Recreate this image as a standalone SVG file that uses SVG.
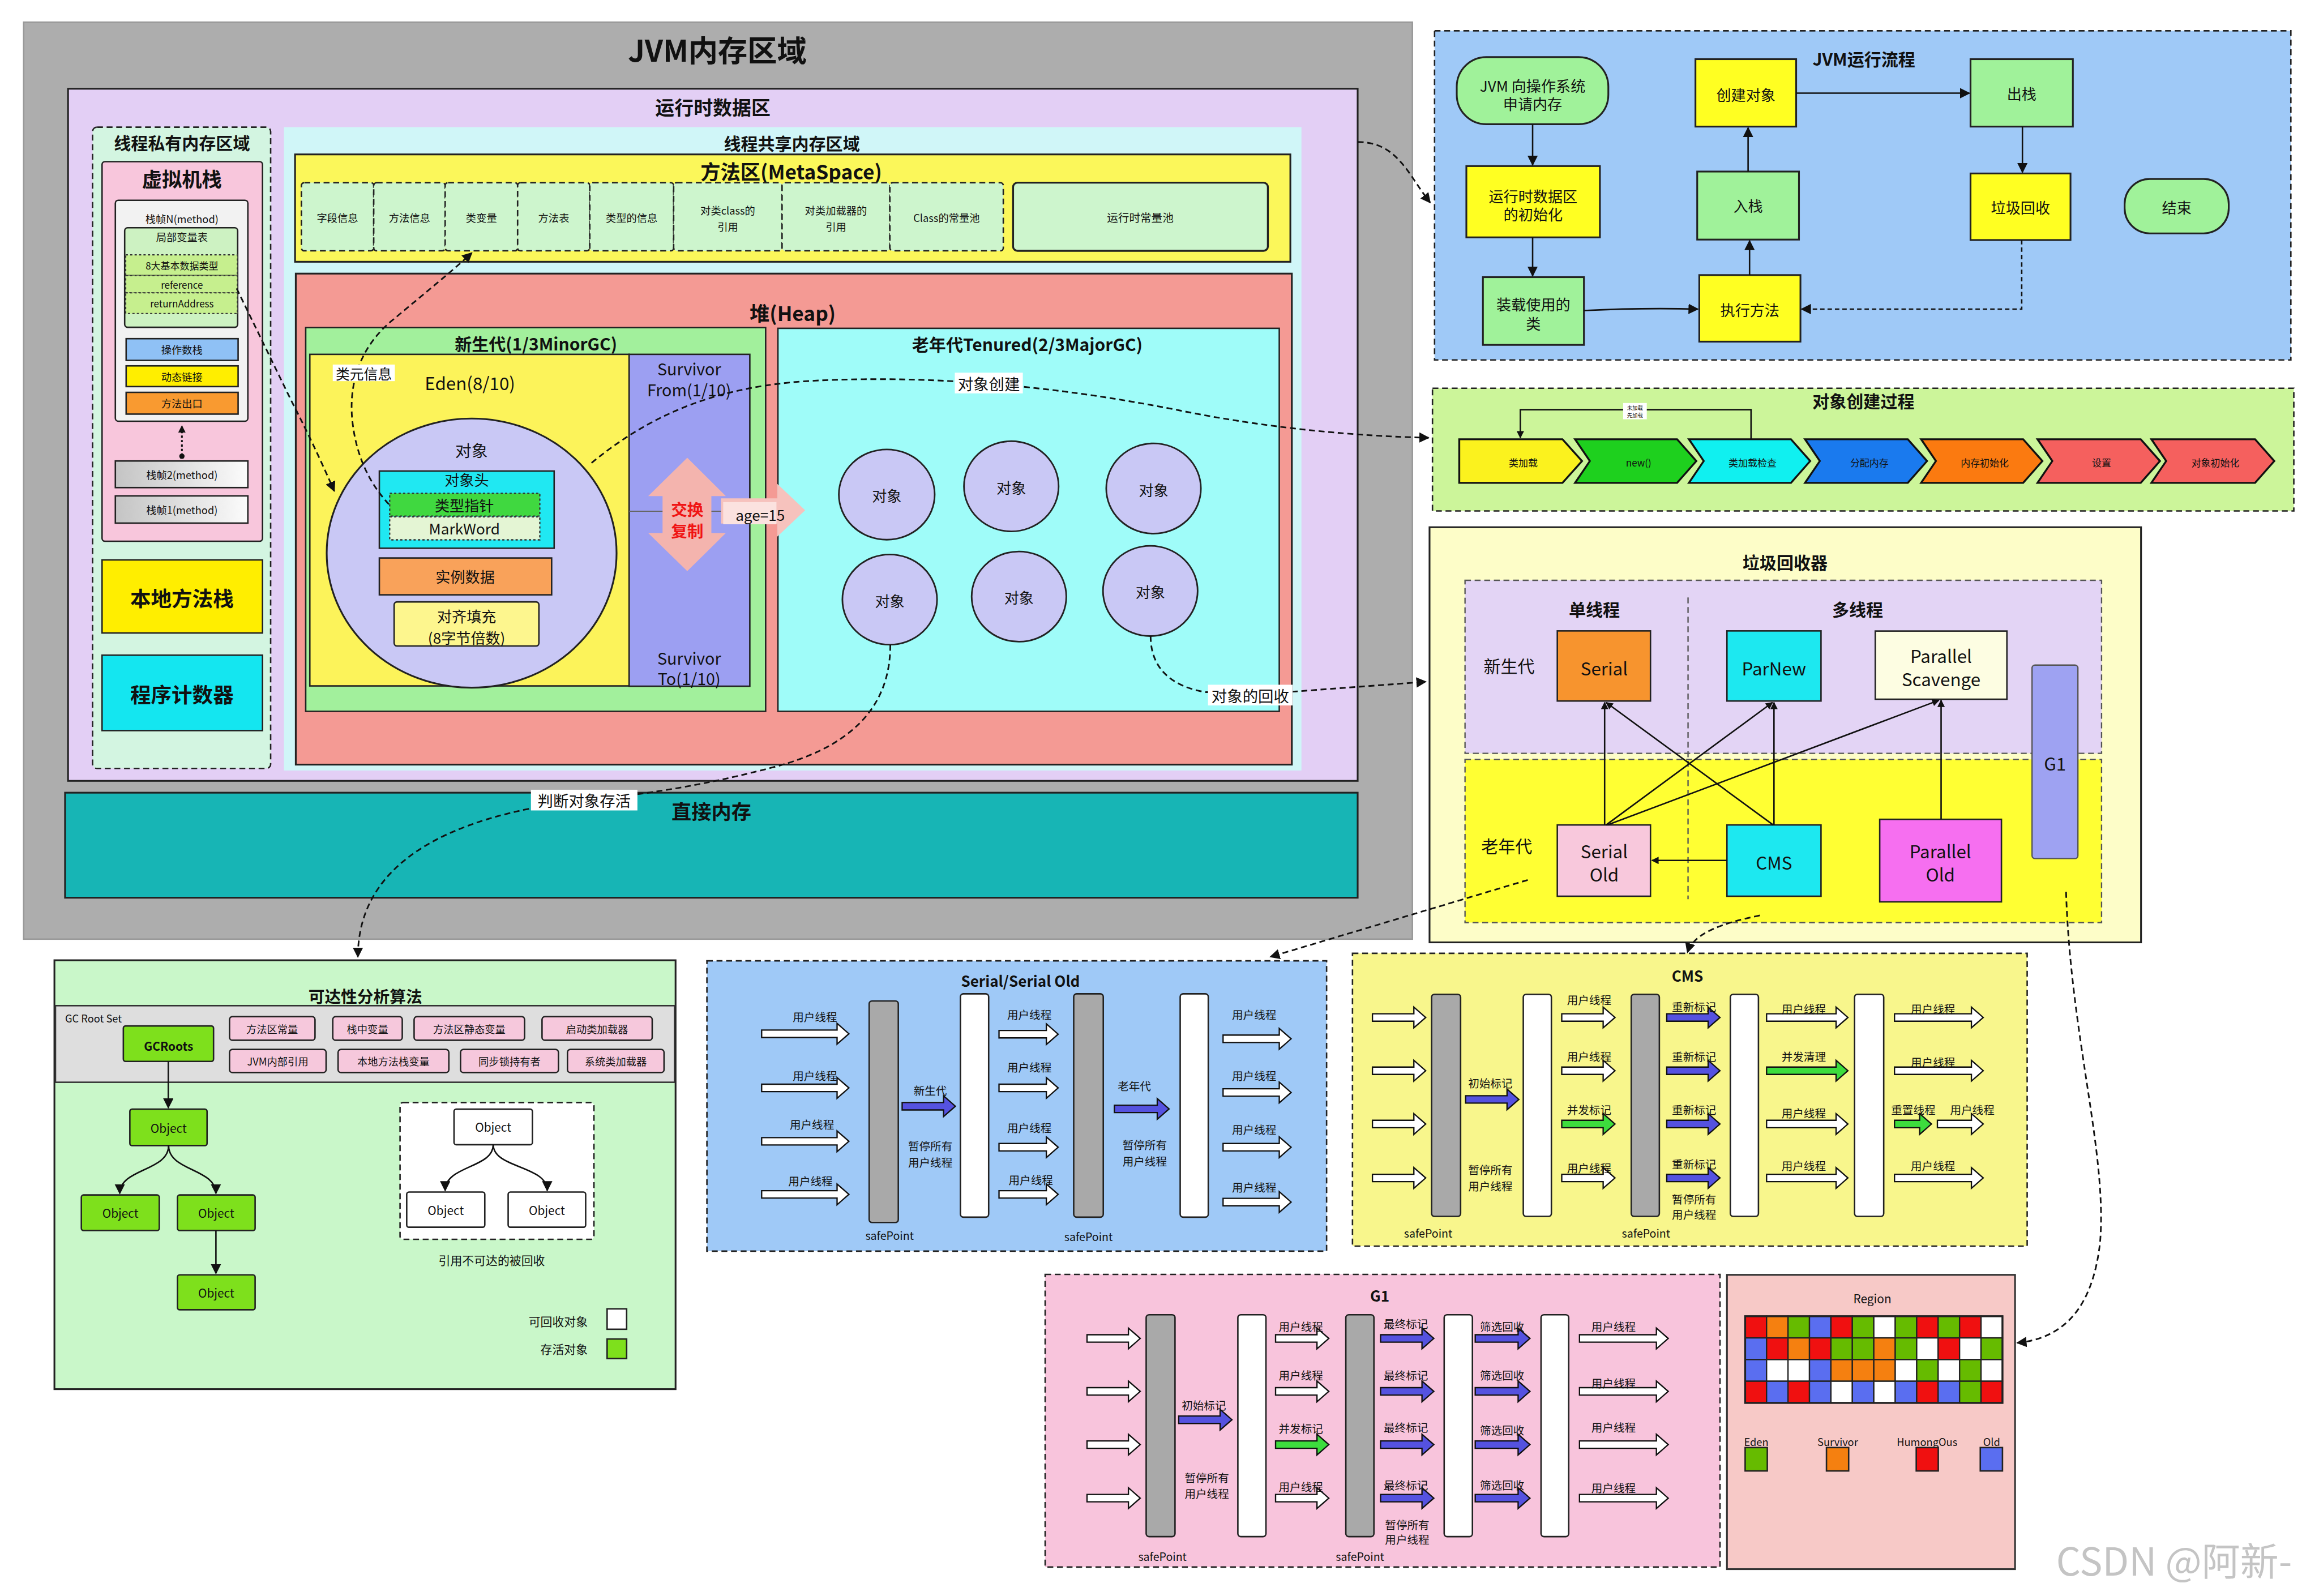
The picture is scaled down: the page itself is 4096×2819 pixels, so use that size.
<svg xmlns="http://www.w3.org/2000/svg" width="4096" height="2819" viewBox="0 0 4096 2819">
<defs>
<marker id="ah" viewBox="0 0 10 10" refX="9" refY="5" markerWidth="7" markerHeight="7" markerUnits="userSpaceOnUse" orient="auto"><path d="M0,0 L10,5 L0,10 z" fill="#111"/></marker>
<marker id="as" viewBox="0 0 10 10" refX="9" refY="5" markerWidth="5" markerHeight="5" markerUnits="userSpaceOnUse" orient="auto"><path d="M0,0 L10,5 L0,10 z" fill="#111"/></marker>
<linearGradient id="gw" x1="0" x2="1" y1="0" y2="0"><stop offset="0" stop-color="#c4c4c4"/><stop offset="1" stop-color="#fbfbfb"/></linearGradient>
</defs>
<style>
.t{font-family:"Noto Sans CJK SC","Noto Sans",sans-serif;fill:#111;text-anchor:middle;dominant-baseline:central}
.b{font-weight:bold}
.ln{fill:none;stroke:#111;stroke-width:1}
.dl{fill:none;stroke:#111;stroke-width:1.1;stroke-dasharray:4 2.5}
.bx{stroke:#222;stroke-width:1}
.db{stroke:#222;stroke-width:1;stroke-dasharray:4 2.5}
.wa{fill:#fff;stroke:#111;stroke-width:0.9}
.ba{fill:#5552e0;stroke:#111;stroke-width:0.9}
.ga{fill:#3ddc3d;stroke:#111;stroke-width:0.9}
.gb{fill:#a9a9a9;stroke:#222;stroke-width:1}
.wb{fill:#fff;stroke:#222;stroke-width:1}
.s7{font-size:7.5px}
.lb{fill:#fff}
</style>
<rect width="4096" height="2819" fill="#fff"/>
<g transform="scale(2.6122)">

<g id="jvm-memory">
<rect x="16" y="15" width="939" height="620" fill="#adadad" stroke="#999"/>
<text x="485" y="33" font-size="20" class="t b">JVM内存区域</text>
</g>
<g id="runtime-data">
<rect x="46" y="60" width="872" height="468" fill="#e3cff5" stroke="#222" stroke-width="1.2"/>
<text x="482" y="72" font-size="13" class="t b">运行时数据区</text>
</g>

<g id="thread-private">
<rect x="62.6" y="86" width="120.4" height="433.6" rx="3" fill="#d3f5e1" class="db"/>
<text x="123" y="96" font-size="11.5" class="t b">线程私有内存区域</text>
</g>
<g id="vm-stack">
<rect x="69" y="109.3" width="108.5" height="256.7" rx="2" fill="#f8c6dc" class="bx"/>
<text x="123" y="120.5" font-size="13.5" class="t b">虚拟机栈</text>
<rect x="78" y="135.4" width="89.6" height="149.4" rx="2" fill="#f2f2f2" class="bx"/>
<text x="123" y="147.6" font-size="7" class="t">栈帧N(method)</text>
<rect x="84.3" y="154" width="76.4" height="67.3" rx="2" fill="#cdf2c2" class="bx"/>
<text x="123" y="160" font-size="7" class="t">局部变量表</text>
<rect x="85" y="172.3" width="75.5" height="14" fill="#c6ef8e" stroke="#333" stroke-width="0.8" stroke-dasharray="1.5 1.5"/>
<rect x="85" y="186.3" width="75.5" height="11.7" fill="#c6ef8e" stroke="#333" stroke-width="0.8" stroke-dasharray="1.5 1.5"/>
<rect x="85" y="198" width="75.5" height="14" fill="#c6ef8e" stroke="#333" stroke-width="0.8" stroke-dasharray="1.5 1.5"/>
<text x="123" y="179.3" font-size="6.5" class="t">8大基本数据类型</text>
<text x="123" y="192.2" font-size="6.5" class="t">reference</text>
<text x="123" y="205" font-size="6.5" class="t">returnAddress</text>
<rect x="85.3" y="229" width="75.7" height="14.7" fill="#8fc1f5" class="bx"/>
<text x="123" y="236.3" font-size="7" class="t">操作数栈</text>
<rect x="85.3" y="247.4" width="75.7" height="14" fill="#ffee00" class="bx"/>
<text x="123" y="254.4" font-size="7" class="t">动态链接</text>
<rect x="85.3" y="265.3" width="75.7" height="14.7" fill="#f99a30" class="bx"/>
<text x="123" y="272.6" font-size="7" class="t">方法出口</text>
<line x1="123" y1="308" x2="123" y2="288" stroke="#111" stroke-width="1.2" stroke-dasharray="1.5 1.5" marker-end="url(#as)"/>
<circle cx="123" cy="308.5" r="1.8" fill="#111"/>
<rect x="78" y="311.7" width="89.6" height="18" fill="url(#gw)" class="bx"/>
<text x="123" y="320.7" font-size="7" class="t">栈帧2(method)</text>
<rect x="78" y="335.3" width="89.6" height="18.4" fill="url(#gw)" class="bx"/>
<text x="123" y="344.5" font-size="7" class="t">栈帧1(method)</text>
</g>
<g id="native-stack">
<rect x="69" y="378.6" width="108.5" height="49.4" fill="#ffee00" class="bx"/>
<text x="123" y="404" font-size="14" class="t b">本地方法栈</text>
</g>
<g id="pc-register">
<rect x="69" y="443" width="108.5" height="51" fill="#14e6f0" class="bx"/>
<text x="123" y="469" font-size="14" class="t b">程序计数器</text>
</g>

<g id="shared">
<rect x="192" y="86" width="688" height="435" fill="#d0f6f8"/>
<text x="535.4" y="96.5" font-size="11.5" class="t b">线程共享内存区域</text>
</g>
<g id="method-area">
<rect x="199.5" y="104.4" width="673" height="72.6" fill="#fbf75a" stroke="#222" stroke-width="1.2"/>
<text x="535" y="115.6" font-size="13.5" class="t b">方法区(MetaSpace)</text>
<g fill="#cdf5cd" class="db">
<rect x="203.8" y="123.5" width="48.9" height="46.1" rx="2"/>
<rect x="252.7" y="123.5" width="48.3" height="46.1" rx="2"/>
<rect x="301" y="123.5" width="49" height="46.1" rx="2"/>
<rect x="350" y="123.5" width="48.8" height="46.1" rx="2"/>
<rect x="398.8" y="123.5" width="56.7" height="46.1" rx="2"/>
<rect x="455.5" y="123.5" width="73.3" height="46.1" rx="2"/>
<rect x="528.8" y="123.5" width="72.9" height="46.1" rx="2"/>
<rect x="601.7" y="123.5" width="76.7" height="46.1" rx="2"/>
</g>
<rect x="685" y="123.5" width="172.3" height="46.1" rx="3" fill="#cdf5cd" stroke="#222" stroke-width="1.3"/>
<text x="228.2" y="147" font-size="7" class="t">字段信息</text>
<text x="276.9" y="147" font-size="7" class="t">方法信息</text>
<text x="325.5" y="147" font-size="7" class="t">类变量</text>
<text x="374.4" y="147" font-size="7" class="t">方法表</text>
<text x="427.1" y="147" font-size="7" class="t">类型的信息</text>
<text x="492.1" y="142" font-size="7" class="t">对类class的</text>
<text x="492.1" y="153" font-size="7" class="t">引用</text>
<text x="565.2" y="142" font-size="7" class="t">对类加载器的</text>
<text x="565.2" y="153" font-size="7" class="t">引用</text>
<text x="640" y="147" font-size="7" class="t">Class的常量池</text>
<text x="771" y="147" font-size="7.5" class="t">运行时常量池</text>
</g>

<g id="heap">
<rect x="200" y="185" width="673.5" height="332" fill="#f49a94" stroke="#222" stroke-width="1.2"/>
<text x="536" y="211" font-size="13.5" class="t b">堆(Heap)</text>
</g>
<g id="young-gen">
<rect x="206.7" y="221.5" width="311" height="259.5" fill="#a2f09c" class="bx"/>
<text x="362.4" y="232" font-size="11.5" class="t b">新生代(1/3MinorGC)</text>
<rect x="209.5" y="239.6" width="215.9" height="224.2" fill="#fcf35a" class="bx"/>
<text x="317.8" y="258.6" font-size="12" class="t">Eden(8/10)</text>
<rect x="425.4" y="239.6" width="81.6" height="224.4" fill="#9c9ff2" class="bx"/>
<line x1="425.4" y1="345.7" x2="507" y2="345.7" stroke="#666" stroke-width="0.8"/>
<text x="466" y="249" font-size="11" class="t">Survivor</text>
<text x="466" y="263" font-size="11" class="t">From(1/10)</text>
<text x="466" y="444.8" font-size="11" class="t">Survivor</text>
<text x="466" y="458.6" font-size="11" class="t">To(1/10)</text>
<polygon points="464.7,309.5 490.8,335.4 481,335.4 481,360.4 490.8,360.4 464.7,386.2 438.3,360.4 448,360.4 448,335.4 438.3,335.4" fill="#f4b4ae"/>
<text x="464.7" y="344" font-size="11" class="t b" style="fill:#f01414">交换</text>
<text x="464.7" y="358.5" font-size="11" class="t b" style="fill:#f01414">复制</text>
</g>
<g id="object">
<ellipse cx="318.9" cy="374" rx="98" ry="91" fill="#c9c8f5" stroke="#222" stroke-width="1.2"/>
<text x="318.8" y="304.2" font-size="11" class="t">对象</text>
<rect x="256.5" y="318.5" width="118.2" height="52.2" fill="#20e8f2" class="bx"/>
<text x="315.6" y="324.2" font-size="10" class="t">对象头</text>
<rect x="263.5" y="333.6" width="101.5" height="15.4" fill="#40d840" stroke="#333" stroke-width="0.9" stroke-dasharray="1.5 1.5"/>
<text x="314" y="341.3" font-size="10" class="t">类型指针</text>
<rect x="263.5" y="349.4" width="101.5" height="15.6" fill="#e4f5d4" stroke="#333" stroke-width="0.9" stroke-dasharray="1.5 1.5"/>
<text x="314" y="357.2" font-size="10" class="t">MarkWord</text>
<rect x="256.5" y="377.3" width="116.5" height="24.9" fill="#f9a25a" class="bx"/>
<text x="314.5" y="389.7" font-size="10" class="t">实例数据</text>
<rect x="266.5" y="407" width="97.9" height="29.8" rx="2" fill="#fdf68e" class="bx"/>
<text x="315.5" y="416.4" font-size="10" class="t">对齐填充</text>
<text x="315.5" y="431" font-size="10" class="t">(8字节倍数)</text>
</g>
<g id="old-gen">
<rect x="526" y="222" width="339" height="259" fill="#9ffcf9" class="bx"/>
<text x="694.6" y="232.2" font-size="11.5" class="t b">老年代Tenured(2/3MajorGC)</text>
<g fill="#c9c8f5" stroke="#222" stroke-width="1.1">
<ellipse cx="599.6" cy="334.4" rx="32.4" ry="30.5"/>
<ellipse cx="683.8" cy="328.8" rx="32" ry="30.5"/>
<ellipse cx="780" cy="330.3" rx="32" ry="30.5"/>
<ellipse cx="601.6" cy="405.4" rx="32" ry="30.5"/>
<ellipse cx="689" cy="403.4" rx="32" ry="30.5"/>
<ellipse cx="777.8" cy="399.6" rx="32" ry="30.5"/>
</g>
<text x="599.6" y="335" font-size="10" class="t">对象</text>
<text x="683.8" y="329.5" font-size="10" class="t">对象</text>
<text x="780" y="331" font-size="10" class="t">对象</text>
<text x="601.6" y="406" font-size="10" class="t">对象</text>
<text x="689" y="404" font-size="10" class="t">对象</text>
<text x="777.8" y="400" font-size="10" class="t">对象</text>
</g>
<g id="age-arrow">
<polygon points="487.5,337 525.4,337 525.4,327 544.4,345 525.4,363 525.4,354 487.5,354" fill="#f6c2bd"/>
<rect x="489" y="339.5" width="36" height="15" fill="#fbe2df"/>
<text x="514" y="347.8" font-size="10" class="t">age=15</text>
</g>
<g id="direct-memory">
<rect x="44" y="536" width="874" height="71" fill="#17b5b5" stroke="#222" stroke-width="1.2"/>
<text x="481" y="548" font-size="13.5" class="t b">直接内存</text>
</g>

<g id="jvm-flow">
<rect x="970" y="20.8" width="579" height="222.6" fill="#9fc9f7" class="db"/>
<text x="1260.3" y="39.5" font-size="11.5" class="t b">JVM运行流程</text>
<rect x="985" y="38.6" width="102.5" height="45.4" rx="20" fill="#a0f29a" stroke="#222" stroke-width="1.2"/>
<text x="1036.3" y="57.8" font-size="10" class="t">JVM 向操作系统</text>
<text x="1036.3" y="70.2" font-size="10" class="t">申请内存</text>
<rect x="991.5" y="112.3" width="90.3" height="48.2" fill="#ffff22" stroke="#222" stroke-width="1.2"/>
<text x="1036.6" y="132.4" font-size="10" class="t">运行时数据区</text>
<text x="1036.6" y="144.8" font-size="10" class="t">的初始化</text>
<rect x="1002.7" y="187.4" width="68.3" height="45.8" fill="#a0f29a" stroke="#222" stroke-width="1.2"/>
<text x="1036.8" y="205.4" font-size="10" class="t">装载使用的</text>
<text x="1036.8" y="218.6" font-size="10" class="t">类</text>
<rect x="1149" y="186" width="68.4" height="45" fill="#ffff22" stroke="#222" stroke-width="1.2"/>
<text x="1183.2" y="209.5" font-size="10" class="t">执行方法</text>
<rect x="1147.6" y="116" width="68.8" height="46" fill="#a0f29a" stroke="#222" stroke-width="1.2"/>
<text x="1182" y="139" font-size="10" class="t">入栈</text>
<rect x="1146.4" y="40" width="68.1" height="45.6" fill="#ffff22" stroke="#222" stroke-width="1.2"/>
<text x="1180.5" y="64" font-size="10" class="t">创建对象</text>
<rect x="1332.4" y="40" width="69.2" height="45.6" fill="#a0f29a" stroke="#222" stroke-width="1.2"/>
<text x="1367" y="63" font-size="10" class="t">出栈</text>
<rect x="1332.4" y="117.3" width="67.6" height="45" fill="#ffff22" stroke="#222" stroke-width="1.2"/>
<text x="1366.2" y="140" font-size="10" class="t">垃圾回收</text>
<rect x="1436.6" y="121" width="70.4" height="36.8" rx="17" fill="#a0f29a" stroke="#222" stroke-width="1.2"/>
<text x="1471.8" y="140" font-size="10" class="t">结束</text>
<path class="ln" d="M1036.3,84 V111.5" marker-end="url(#ah)"/>
<path class="ln" d="M1036.3,160.5 V186.5" marker-end="url(#ah)"/>
<path class="ln" d="M1071,210 Q1110,208 1148,209" stroke-width="1.4" marker-end="url(#ah)"/>
<path class="ln" d="M1183,186 V162.8" marker-end="url(#ah)"/>
<path class="ln" d="M1182,116 V86.4" marker-end="url(#ah)"/>
<path class="ln" d="M1214.5,63 H1331.6" stroke-width="1.4" marker-end="url(#ah)"/>
<path class="ln" d="M1367.5,85.6 V116.5" marker-end="url(#ah)"/>
<path class="ln" d="M1367,162.3 V209 H1218.2" stroke-dasharray="3 2" marker-end="url(#ah)"/>
</g>

<g id="object-creation">
<rect x="968.6" y="262.5" width="582.4" height="83" fill="#ccf59a" class="db"/>
<text x="1260" y="270.5" font-size="11.5" class="t b">对象创建过程</text>
<g stroke="#111" stroke-width="1.3">
<polygon points="986.7,297 1056.5,297 1069.7,311.75 1056.5,326.5 986.7,326.5" fill="#fbf21e"/>
<polygon points="1065,297 1134,297 1147,311.75 1134,326.5 1065,326.5 1075,311.75" fill="#1ed01e"/>
<polygon points="1142,297 1211,297 1224,311.75 1211,326.5 1142,326.5 1152,311.75" fill="#10f0f0"/>
<polygon points="1220.5,297 1290,297 1303,311.75 1290,326.5 1220.5,326.5 1230.5,311.75" fill="#1a7aee"/>
<polygon points="1299,297 1368,297 1381,311.75 1368,326.5 1299,326.5 1309,311.75" fill="#fb7a10"/>
<polygon points="1377.7,297 1447.5,297 1460.5,311.75 1447.5,326.5 1377.7,326.5 1387.7,311.75" fill="#f5605e"/>
<polygon points="1454.7,297 1524.8,297 1537.8,311.75 1524.8,326.5 1454.7,326.5 1464.7,311.75" fill="#f5605e"/>
</g>
<text x="1030" y="312.5" font-size="6.5" class="t">类加载</text>
<text x="1108" y="312.5" font-size="6.5" class="t">new()</text>
<text x="1185" y="312.5" font-size="6.5" class="t">类加载检查</text>
<text x="1264" y="312.5" font-size="6.5" class="t">分配内存</text>
<text x="1342" y="312.5" font-size="6.5" class="t">内存初始化</text>
<text x="1421" y="312.5" font-size="6.5" class="t">设置</text>
<text x="1498" y="312.5" font-size="6.5" class="t">对象初始化</text>
<path class="ln" d="M1184,297 V277 H1028 V296" stroke-width="1.2" marker-end="url(#as)"/>
<rect x="1097.5" y="272.5" width="16" height="11" class="lb"/>
<text x="1105.5" y="275.5" font-size="3.6" class="t">未加载</text>
<text x="1105.5" y="280.5" font-size="3.6" class="t">先加载</text>
</g>

<g id="gc-collectors">
<rect x="966.6" y="356.5" width="481.1" height="280.7" fill="#fdfdc8" stroke="#222" stroke-width="1.2"/>
<text x="1207" y="379.6" font-size="11.5" class="t b">垃圾回收器</text>
<rect x="990.6" y="392.4" width="430.4" height="117" fill="#e3d4f5" stroke="#555" stroke-width="0.9" stroke-dasharray="4 2.5"/>
<rect x="990.6" y="513.5" width="430.4" height="110.3" fill="#ffff33" stroke="#555" stroke-width="0.9" stroke-dasharray="4 2.5"/>
<line x1="1141.4" y1="404" x2="1141.4" y2="608" stroke="#555" stroke-width="0.9" stroke-dasharray="4 2.5"/>
<text x="1078" y="411.6" font-size="11.5" class="t b">单线程</text>
<text x="1256" y="411.6" font-size="11.5" class="t b">多线程</text>
<text x="1020.4" y="450" font-size="11.5" class="t">新生代</text>
<text x="1018.8" y="571.4" font-size="11.5" class="t">老年代</text>
<rect x="1053" y="426.6" width="63" height="47.4" fill="#f7942e" class="bx"/>
<text x="1084.7" y="451.5" font-size="12" class="t">Serial</text>
<rect x="1167.7" y="426.6" width="63.6" height="47.4" fill="#1de8f0" class="bx"/>
<text x="1199.5" y="451.5" font-size="12" class="t">ParNew</text>
<rect x="1268" y="426.7" width="89" height="46.1" fill="#fdfde2" class="bx"/>
<text x="1312.5" y="443" font-size="12" class="t">Parallel</text>
<text x="1312.5" y="459" font-size="12" class="t">Scavenge</text>
<rect x="1374" y="449.7" width="31" height="130.8" rx="2" fill="#9ea2f2" stroke="#555" stroke-width="0.9"/>
<text x="1389.5" y="516" font-size="12" class="t">G1</text>
<rect x="1053" y="557.8" width="63" height="48.2" fill="#f8c8dc" class="bx"/>
<text x="1084.7" y="575" font-size="12" class="t">Serial</text>
<text x="1084.7" y="591" font-size="12" class="t">Old</text>
<rect x="1167.7" y="557.8" width="63.6" height="48.2" fill="#1de8f0" class="bx"/>
<text x="1199.5" y="583" font-size="12" class="t">CMS</text>
<rect x="1271" y="554" width="82.3" height="55.8" fill="#f66ff0" class="bx"/>
<text x="1312" y="575" font-size="12" class="t">Parallel</text>
<text x="1312" y="591" font-size="12" class="t">Old</text>
<g class="ln" stroke-width="0.8">
<path d="M1085,557.8 V475" marker-end="url(#as)"/>
<path d="M1086,557.8 L1198.5,475" marker-end="url(#as)"/>
<path d="M1087,557.8 L1311,473.5" marker-end="url(#as)"/>
<path d="M1199,557.8 L1086,475" marker-end="url(#as)"/>
<path d="M1199.5,557.8 V475" marker-end="url(#as)"/>
<path d="M1312.5,554 V473.5" marker-end="url(#as)"/>
<path d="M1167.7,581.8 H1117" marker-end="url(#as)"/>
</g>
</g>

<g id="reachability">
<rect x="36.8" y="649.3" width="420" height="290" fill="#c9f7c9" stroke="#222" stroke-width="1.2"/>
<text x="247" y="673" font-size="11" class="t b">可达性分析算法</text>
<rect x="37.5" y="680" width="418.6" height="51.8" fill="#dedede" stroke="#333" stroke-width="1"/>
<text x="44" y="688.3" font-size="7" class="t" style="text-anchor:start">GC Root Set</text>
<rect x="83.4" y="693.7" width="61" height="24" rx="1.5" fill="#7ee01c" class="bx"/>
<text x="114" y="707" font-size="8" class="t b">GCRoots</text>
<g fill="#f6c8dc" class="bx">
<rect x="155.2" y="687.4" width="57.8" height="16" rx="2"/>
<rect x="225" y="687.4" width="47" height="16" rx="2"/>
<rect x="280" y="687.4" width="74.7" height="16" rx="2"/>
<rect x="366.5" y="687.4" width="74.5" height="16" rx="2"/>
<rect x="155.2" y="709.6" width="65.3" height="15.6" rx="2"/>
<rect x="228.6" y="709.6" width="74.9" height="15.6" rx="2"/>
<rect x="311.4" y="709.6" width="66.2" height="15.6" rx="2"/>
<rect x="383.7" y="709.6" width="65.3" height="15.6" rx="2"/>
</g>
<text x="184" y="695.5" font-size="7" class="t">方法区常量</text>
<text x="248.5" y="695.5" font-size="7" class="t">栈中变量</text>
<text x="317.3" y="695.5" font-size="7" class="t">方法区静态变量</text>
<text x="403.7" y="695.5" font-size="7" class="t">启动类加载器</text>
<text x="187.8" y="717.5" font-size="7" class="t">JVM内部引用</text>
<text x="266" y="717.5" font-size="7" class="t">本地方法栈变量</text>
<text x="344.5" y="717.5" font-size="7" class="t">同步锁持有者</text>
<text x="416.3" y="717.5" font-size="7" class="t">系统类加载器</text>
<g fill="#7ee01c" class="bx">
<rect x="87.8" y="750" width="52.2" height="24.6" rx="1.5"/>
<rect x="55" y="808" width="52.7" height="24" rx="1.5"/>
<rect x="120" y="808" width="52.5" height="24" rx="1.5"/>
<rect x="120" y="862" width="52.5" height="23.6" rx="1.5"/>
</g>
<text x="114" y="762.5" font-size="8" class="t">Object</text>
<text x="81.4" y="820" font-size="8" class="t">Object</text>
<text x="146.2" y="820" font-size="8" class="t">Object</text>
<text x="146.2" y="874" font-size="8" class="t">Object</text>
<path class="ln" d="M113.8,717.6 V749" marker-end="url(#ah)"/>
<path class="ln" d="M114,774.6 C114,792 81,790 81,807" marker-end="url(#ah)"/>
<path class="ln" d="M114,774.6 C114,792 146,790 146,807" marker-end="url(#ah)"/>
<path class="ln" d="M146,832 V861" marker-end="url(#ah)"/>
<rect x="270.5" y="745.5" width="131.1" height="92.5" rx="2" fill="#fff" class="db"/>
<g fill="#fff" class="bx">
<rect x="307" y="750" width="53" height="24" rx="1.5"/>
<rect x="275" y="806" width="52.8" height="23.8" rx="1.5"/>
<rect x="343.6" y="806" width="52.4" height="23.8" rx="1.5"/>
</g>
<text x="333.5" y="762" font-size="8" class="t">Object</text>
<text x="301.4" y="818" font-size="8" class="t">Object</text>
<text x="369.8" y="818" font-size="8" class="t">Object</text>
<path class="ln" d="M333.5,774 C333.5,790 301,788 301,805" marker-end="url(#ah)"/>
<path class="ln" d="M333.5,774 C333.5,790 370,788 370,805" marker-end="url(#ah)"/>
<text x="332.5" y="851.6" font-size="8" class="t">引用不可达的被回收</text>
<text x="397.4" y="893" font-size="8" class="t" style="text-anchor:end">可回收对象</text>
<rect x="410.5" y="885" width="13.2" height="13.8" fill="#fff" class="bx"/>
<text x="397.4" y="912" font-size="8" class="t" style="text-anchor:end">存活对象</text>
<rect x="410.5" y="905.4" width="13.2" height="13.2" fill="#7ee01c" class="bx"/>
</g>

<g id="serial-gc">
<rect x="478" y="649.7" width="419" height="196.3" fill="#9fc9f7" class="db"/>
<text x="690" y="663" font-size="10" class="t b">Serial/Serial Old</text>
<rect x="587.7" y="676.8" width="19.7" height="149.8" rx="2" class="gb"/>
<rect x="649.4" y="672" width="19.1" height="151" rx="2" class="wb"/>
<rect x="726" y="672" width="20" height="151" rx="2" class="gb"/>
<rect x="798" y="672" width="19" height="151" rx="2" class="wb"/>
<path class="wa" d="M515,696.5h51v-4.5l8,7-8,7v-4.5h-51z"/>
<path class="wa" d="M515,733.1h51v-4.5l8,7-8,7v-4.5h-51z"/>
<path class="wa" d="M515,769.2h51v-4.5l8,7-8,7v-4.5h-51z"/>
<path class="wa" d="M515,805.1h51v-4.5l8,7-8,7v-4.5h-51z"/>
<path class="ba" d="M610,745.5h28v-4.5l8,7-8,7v-4.5h-28z"/>
<path class="wa" d="M675.5,696.8h32v-4.5l8,7-8,7v-4.5h-32z"/>
<path class="wa" d="M675.5,733.1h32v-4.5l8,7-8,7v-4.5h-32z"/>
<path class="wa" d="M675.5,773.2h32v-4.5l8,7-8,7v-4.5h-32z"/>
<path class="wa" d="M675.5,805.1h32v-4.5l8,7-8,7v-4.5h-32z"/>
<path class="ba" d="M753.5,747.3h29v-4.5l8,7-8,7v-4.5h-29z"/>
<path class="wa" d="M827,699.9h38v-4.5l8,7-8,7v-4.5h-38z"/>
<path class="wa" d="M827,736.2h38v-4.5l8,7-8,7v-4.5h-38z"/>
<path class="wa" d="M827,773.2h38v-4.5l8,7-8,7v-4.5h-38z"/>
<path class="wa" d="M827,810.3h38v-4.5l8,7-8,7v-4.5h-38z"/>
<g class="t s7">
<text x="551" y="687.5">用户线程</text>
<text x="551" y="727">用户线程</text>
<text x="549" y="760">用户线程</text>
<text x="548" y="798.4">用户线程</text>
<text x="629" y="737">新生代</text>
<text x="629" y="774.5">暂停所有</text>
<text x="629" y="785.6">用户线程</text>
<text x="696" y="686">用户线程</text>
<text x="696" y="721.6">用户线程</text>
<text x="696" y="762.5">用户线程</text>
<text x="697" y="797.5">用户线程</text>
<text x="767" y="734">老年代</text>
<text x="774" y="773.8">暂停所有</text>
<text x="774" y="784.9">用户线程</text>
<text x="848" y="686">用户线程</text>
<text x="848" y="727">用户线程</text>
<text x="848" y="763.5">用户线程</text>
<text x="848" y="802.6">用户线程</text>
<text x="601.5" y="835">safePoint</text>
<text x="736" y="836">safePoint</text>
</g>
</g>

<g id="cms-gc">
<rect x="914.5" y="644.6" width="456.2" height="198" fill="#f8f68c" class="db"/>
<text x="1141" y="659.6" font-size="10" class="t b">CMS</text>
<rect x="968" y="672.3" width="19.6" height="150.2" rx="2" class="gb"/>
<rect x="1030" y="672.3" width="19" height="150.2" rx="2" class="wb"/>
<rect x="1103" y="672.3" width="19" height="150.2" rx="2" class="gb"/>
<rect x="1170" y="672.3" width="19" height="150.2" rx="2" class="wb"/>
<rect x="1254" y="672.3" width="19.7" height="150.2" rx="2" class="wb"/>
<path class="wa" d="M928,685.5h28v-4.5l8,7-8,7v-4.5h-28z"/>
<path class="wa" d="M928,721.5h28v-4.5l8,7-8,7v-4.5h-28z"/>
<path class="wa" d="M928,757.5h28v-4.5l8,7-8,7v-4.5h-28z"/>
<path class="wa" d="M928,794h28v-4.5l8,7-8,7v-4.5h-28z"/>
<path class="ba" d="M991,740.9h28v-4.5l8,7-8,7v-4.5h-28z"/>
<path class="wa" d="M1056,685.5h28v-4.5l8,7-8,7v-4.5h-28z"/>
<path class="wa" d="M1056,721.5h28v-4.5l8,7-8,7v-4.5h-28z"/>
<path class="ga" d="M1056,757.5h28v-4.5l8,7-8,7v-4.5h-28z"/>
<path class="wa" d="M1056,794h28v-4.5l8,7-8,7v-4.5h-28z"/>
<path class="ba" d="M1127,685.5h28v-4.5l8,7-8,7v-4.5h-28z"/>
<path class="ba" d="M1127,721.5h28v-4.5l8,7-8,7v-4.5h-28z"/>
<path class="ba" d="M1127,757.5h28v-4.5l8,7-8,7v-4.5h-28z"/>
<path class="ba" d="M1127,794h28v-4.5l8,7-8,7v-4.5h-28z"/>
<path class="wa" d="M1194.5,685.5h47v-4.5l8,7-8,7v-4.5h-47z"/>
<path class="ga" d="M1194.5,721.5h47v-4.5l8,7-8,7v-4.5h-47z"/>
<path class="wa" d="M1194.5,757.5h47v-4.5l8,7-8,7v-4.5h-47z"/>
<path class="wa" d="M1194.5,794h47v-4.5l8,7-8,7v-4.5h-47z"/>
<path class="wa" d="M1281,685.5h52v-4.5l8,7-8,7v-4.5h-52z"/>
<path class="wa" d="M1281,721.5h52v-4.5l8,7-8,7v-4.5h-52z"/>
<path class="ga" d="M1281,757.5h17v-4.5l8,7-8,7v-4.5h-17z"/>
<path class="wa" d="M1310,757.5h23v-4.5l8,7-8,7v-4.5h-23z"/>
<path class="wa" d="M1281,794h52v-4.5l8,7-8,7v-4.5h-52z"/>
<g class="t s7">
<text x="1007.7" y="732">初始标记</text>
<text x="1007.7" y="790.6">暂停所有</text>
<text x="1007.7" y="801.8">用户线程</text>
<text x="1074.5" y="675.8">用户线程</text>
<text x="1074.5" y="714">用户线程</text>
<text x="1074.5" y="750">并发标记</text>
<text x="1074.5" y="789.7">用户线程</text>
<text x="1145.5" y="680.6">重新标记</text>
<text x="1145.5" y="714">重新标记</text>
<text x="1145.5" y="750">重新标记</text>
<text x="1145.5" y="787">重新标记</text>
<text x="1145.5" y="810.8">暂停所有</text>
<text x="1145.5" y="821">用户线程</text>
<text x="1219.6" y="682">用户线程</text>
<text x="1219.6" y="714">并发清理</text>
<text x="1219.6" y="752.6">用户线程</text>
<text x="1219.6" y="788">用户线程</text>
<text x="1307" y="682">用户线程</text>
<text x="1307" y="718">用户线程</text>
<text x="1293.7" y="750">重置线程</text>
<text x="1333.6" y="750">用户线程</text>
<text x="1307" y="788">用户线程</text>
<text x="965.7" y="833.4">safePoint</text>
<text x="1113" y="833.4">safePoint</text>
</g>
</g>

<g id="g1-gc">
<rect x="706.7" y="861.7" width="456.3" height="197.9" fill="#f8c4dc" class="db"/>
<text x="933" y="876" font-size="10" class="t b">G1</text>
<rect x="775" y="889" width="19.5" height="150" rx="2" class="gb"/>
<rect x="837" y="889" width="19" height="150" rx="2" class="wb"/>
<rect x="910" y="889" width="19" height="150" rx="2" class="gb"/>
<rect x="976.5" y="889" width="19.1" height="150" rx="2" class="wb"/>
<rect x="1042" y="889" width="18.7" height="150" rx="2" class="wb"/>
<path class="wa" d="M735,902.5h28v-4.5l8,7-8,7v-4.5h-28z"/>
<path class="wa" d="M735,938.3h28v-4.5l8,7-8,7v-4.5h-28z"/>
<path class="wa" d="M735,974.3h28v-4.5l8,7-8,7v-4.5h-28z"/>
<path class="wa" d="M735,1010.5h28v-4.5l8,7-8,7v-4.5h-28z"/>
<path class="ba" d="M797,957.5h28v-4.5l8,7-8,7v-4.5h-28z"/>
<path class="wa" d="M862.5,902.5h28v-4.5l8,7-8,7v-4.5h-28z"/>
<path class="wa" d="M862.5,938.3h28v-4.5l8,7-8,7v-4.5h-28z"/>
<path class="ga" d="M862.5,974.3h28v-4.5l8,7-8,7v-4.5h-28z"/>
<path class="wa" d="M862.5,1010.5h28v-4.5l8,7-8,7v-4.5h-28z"/>
<path class="ba" d="M933.5,902.5h28v-4.5l8,7-8,7v-4.5h-28z"/>
<path class="ba" d="M933.5,938.3h28v-4.5l8,7-8,7v-4.5h-28z"/>
<path class="ba" d="M933.5,974.3h28v-4.5l8,7-8,7v-4.5h-28z"/>
<path class="ba" d="M933.5,1010.5h28v-4.5l8,7-8,7v-4.5h-28z"/>
<path class="ba" d="M997.5,902.5h29v-4.5l8,7-8,7v-4.5h-29z"/>
<path class="ba" d="M997.5,938.3h29v-4.5l8,7-8,7v-4.5h-29z"/>
<path class="ba" d="M997.5,974.3h29v-4.5l8,7-8,7v-4.5h-29z"/>
<path class="ba" d="M997.5,1010.5h29v-4.5l8,7-8,7v-4.5h-29z"/>
<path class="wa" d="M1068,902.5h52v-4.5l8,7-8,7v-4.5h-52z"/>
<path class="wa" d="M1068,938.3h52v-4.5l8,7-8,7v-4.5h-52z"/>
<path class="wa" d="M1068,974.3h52v-4.5l8,7-8,7v-4.5h-52z"/>
<path class="wa" d="M1068,1010.5h52v-4.5l8,7-8,7v-4.5h-52z"/>
<g class="t s7">
<text x="814" y="950">初始标记</text>
<text x="816" y="999">暂停所有</text>
<text x="816" y="1009.7">用户线程</text>
<text x="879.6" y="896.8">用户线程</text>
<text x="879.6" y="929.8">用户线程</text>
<text x="879.6" y="965.6">并发标记</text>
<text x="879.6" y="1005">用户线程</text>
<text x="950.6" y="895">最终标记</text>
<text x="950.6" y="929.8">最终标记</text>
<text x="950.6" y="965">最终标记</text>
<text x="950.6" y="1004">最终标记</text>
<text x="951.5" y="1030.6">暂停所有</text>
<text x="951.5" y="1040.6">用户线程</text>
<text x="1015.7" y="896.8">筛选回收</text>
<text x="1015.7" y="929.8">筛选回收</text>
<text x="1015.7" y="967">筛选回收</text>
<text x="1015.7" y="1004">筛选回收</text>
<text x="1091" y="896.8">用户线程</text>
<text x="1091" y="935">用户线程</text>
<text x="1091" y="965">用户线程</text>
<text x="1091" y="1006">用户线程</text>
<text x="786" y="1052">safePoint</text>
<text x="919.6" y="1052">safePoint</text>
</g>
</g>

<g id="region">
<rect x="1167.7" y="862" width="194.8" height="199" fill="#f7c9c7" stroke="#333" stroke-width="1.2"/>
<text x="1266" y="877.8" font-size="8" class="t">Region</text>
<g stroke="#222" stroke-width="0.9">
<rect x="1180" y="890" width="14.5" height="14.65" fill="#f01010"/><rect x="1194.5" y="890" width="14.5" height="14.65" fill="#f58010"/><rect x="1209" y="890" width="14.5" height="14.65" fill="#66bb00"/><rect x="1223.5" y="890" width="14.5" height="14.65" fill="#5a6ef0"/><rect x="1238" y="890" width="14.5" height="14.65" fill="#f01010"/><rect x="1252.5" y="890" width="14.5" height="14.65" fill="#66bb00"/><rect x="1267" y="890" width="14.5" height="14.65" fill="#fff"/><rect x="1281.5" y="890" width="14.5" height="14.65" fill="#66bb00"/><rect x="1296" y="890" width="14.5" height="14.65" fill="#f01010"/><rect x="1310.5" y="890" width="14.5" height="14.65" fill="#66bb00"/><rect x="1325" y="890" width="14.5" height="14.65" fill="#f01010"/><rect x="1339.5" y="890" width="14.5" height="14.65" fill="#fff"/>
<rect x="1180" y="904.65" width="14.5" height="14.65" fill="#5a6ef0"/><rect x="1194.5" y="904.65" width="14.5" height="14.65" fill="#f01010"/><rect x="1209" y="904.65" width="14.5" height="14.65" fill="#f58010"/><rect x="1223.5" y="904.65" width="14.5" height="14.65" fill="#f01010"/><rect x="1238" y="904.65" width="14.5" height="14.65" fill="#66bb00"/><rect x="1252.5" y="904.65" width="14.5" height="14.65" fill="#66bb00"/><rect x="1267" y="904.65" width="14.5" height="14.65" fill="#f58010"/><rect x="1281.5" y="904.65" width="14.5" height="14.65" fill="#66bb00"/><rect x="1296" y="904.65" width="14.5" height="14.65" fill="#fff"/><rect x="1310.5" y="904.65" width="14.5" height="14.65" fill="#f01010"/><rect x="1325" y="904.65" width="14.5" height="14.65" fill="#fff"/><rect x="1339.5" y="904.65" width="14.5" height="14.65" fill="#66bb00"/>
<rect x="1180" y="919.3" width="14.5" height="14.65" fill="#5a6ef0"/><rect x="1194.5" y="919.3" width="14.5" height="14.65" fill="#fff"/><rect x="1209" y="919.3" width="14.5" height="14.65" fill="#fff"/><rect x="1223.5" y="919.3" width="14.5" height="14.65" fill="#5a6ef0"/><rect x="1238" y="919.3" width="14.5" height="14.65" fill="#f58010"/><rect x="1252.5" y="919.3" width="14.5" height="14.65" fill="#f58010"/><rect x="1267" y="919.3" width="14.5" height="14.65" fill="#f58010"/><rect x="1281.5" y="919.3" width="14.5" height="14.65" fill="#fff"/><rect x="1296" y="919.3" width="14.5" height="14.65" fill="#66bb00"/><rect x="1310.5" y="919.3" width="14.5" height="14.65" fill="#fff"/><rect x="1325" y="919.3" width="14.5" height="14.65" fill="#66bb00"/><rect x="1339.5" y="919.3" width="14.5" height="14.65" fill="#fff"/>
<rect x="1180" y="933.95" width="14.5" height="14.65" fill="#f01010"/><rect x="1194.5" y="933.95" width="14.5" height="14.65" fill="#5a6ef0"/><rect x="1209" y="933.95" width="14.5" height="14.65" fill="#f01010"/><rect x="1223.5" y="933.95" width="14.5" height="14.65" fill="#5a6ef0"/><rect x="1238" y="933.95" width="14.5" height="14.65" fill="#fff"/><rect x="1252.5" y="933.95" width="14.5" height="14.65" fill="#5a6ef0"/><rect x="1267" y="933.95" width="14.5" height="14.65" fill="#fff"/><rect x="1281.5" y="933.95" width="14.5" height="14.65" fill="#5a6ef0"/><rect x="1296" y="933.95" width="14.5" height="14.65" fill="#f01010"/><rect x="1310.5" y="933.95" width="14.5" height="14.65" fill="#5a6ef0"/><rect x="1325" y="933.95" width="14.5" height="14.65" fill="#66bb00"/><rect x="1339.5" y="933.95" width="14.5" height="14.65" fill="#f01010"/>
</g>
<rect x="1180" y="890" width="174" height="58.6" fill="none" stroke="#222" stroke-width="1.3"/>
<text x="1187.5" y="974.6" font-size="7" class="t">Eden</text>
<text x="1242.6" y="974.6" font-size="7" class="t">Survivor</text>
<text x="1303" y="974.6" font-size="7" class="t">HumongOus</text>
<text x="1346.7" y="974.6" font-size="7" class="t">Old</text>
<rect x="1180" y="978.8" width="15" height="15.8" fill="#66bb00" class="bx"/>
<rect x="1235" y="978.8" width="15" height="15.8" fill="#f58010" class="bx"/>
<rect x="1295.7" y="978.8" width="14.9" height="15.8" fill="#f01010" class="bx"/>
<rect x="1339" y="978.8" width="15" height="15.8" fill="#5a6ef0" class="bx"/>
</g>

<g id="connectors">
<path class="dl" d="M918,96 C945,96 952,118 967,137" marker-end="url(#ah)"/>
<path class="dl" d="M400,313 C450,272 500,259 560,257 C640,254 720,262 800,278 C860,290 920,295 966,296" marker-end="url(#ah)"/>
<path class="dl" d="M263,341 C248,325 240,305 238,282 C236,255 246,232 266,216 C285,200 305,184 319,171" marker-end="url(#ah)"/>
<path class="dl" d="M160,195 L197,271 Q212,300 226,332" marker-end="url(#ah)"/>
<path class="dl" d="M602,436 C602,470 585,503 522,519 C480,530 440,537 395,541 C300,552 242,585 242,647" marker-end="url(#ah)"/>
<path class="dl" d="M778,430 C778,452 792,464 815,468 L870,468 L964,461" marker-end="url(#ah)"/>
<path class="dl" d="M1033,595 L859,647" marker-end="url(#ah)"/>
<path class="dl" d="M1190,619 C1165,624 1145,631 1141,644" marker-end="url(#ah)"/>
<path class="dl" d="M1397,603 C1400,700 1425,780 1420,840 C1415,885 1395,905 1364,908" marker-end="url(#ah)"/>
</g>
<g id="connector-labels">
<rect x="225" y="246.5" width="42" height="11.2" class="lb"/>
<text x="246" y="252.2" font-size="9.5" class="t">类元信息</text>
<rect x="645.6" y="252" width="46" height="14" class="lb"/>
<text x="668.6" y="259" font-size="10.5" class="t">对象创建</text>
<rect x="816.8" y="463" width="57.2" height="14" class="lb"/>
<text x="845.4" y="470" font-size="10.5" class="t">对象的回收</text>
<rect x="359" y="534" width="72" height="14" class="lb"/>
<text x="395" y="541" font-size="10.5" class="t">判断对象存活</text>
</g>
<text x="1470" y="1054" font-size="26" class="t" style="fill:#c4c4c4">CSDN @阿新-</text>
</g>
</svg>
